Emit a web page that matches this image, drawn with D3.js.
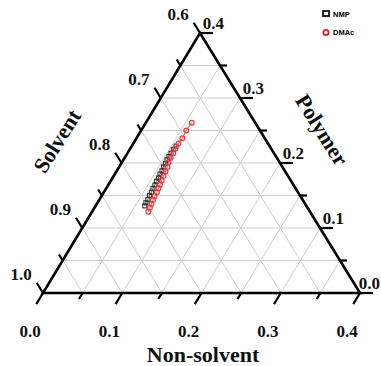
<!DOCTYPE html>
<html>
<head>
<meta charset="utf-8">
<script src="https://cdn.jsdelivr.net/npm/d3@7"></script>
<style>
  html, body { margin: 0; padding: 0; background: #fff; }
  svg { display: block; }
</style>
</head>
<body>
<svg id="chart" width="381" height="366"></svg>
<script>
// ---------------- data ----------------
const seriesNames = ["NMP", "DMAc"];

// NMP cloud points (mass fractions)
const nmpNonsolvent = [0.062,0.061,0.061,0.060,0.060,0.059,0.059,0.058,0.058,0.057,0.057,0.056,0.056,0.055,0.055,0.055,0.055,0.056];
const nmpPolymer    = [0.134,0.139,0.144,0.150,0.155,0.161,0.166,0.172,0.177,0.183,0.188,0.194,0.199,0.205,0.210,0.215,0.221,0.226];

// DMAc cloud points (mass fractions)
const dmacNonsolvent = [0.071,0.070,0.069,0.068,0.067,0.067,0.066,0.065,0.064,0.063,0.062,0.061,0.059,0.058,0.058,0.057,0.057,0.058,0.057,0.058];
const dmacPolymer    = [0.125,0.131,0.137,0.143,0.149,0.155,0.161,0.167,0.173,0.180,0.187,0.194,0.201,0.208,0.215,0.222,0.230,0.238,0.250,0.262];

// axis ticks
const majorTicks = [0.0, 0.1, 0.2, 0.3, 0.4];
const minorTicks = [0.05, 0.15, 0.25, 0.35];
const gridValues = [0.05, 0.10, 0.15, 0.20, 0.25, 0.30, 0.35];
const bottomTickLabels = ["0.0", "0.1", "0.2", "0.3", "0.4"];
const leftTickLabels   = ["1.0", "0.9", "0.8", "0.7", "0.6"];
const rightTickLabels  = ["0.0", "0.1", "0.2", "0.3", "0.4"];
const axisTitles = { bottom: "Non-solvent", left: "Solvent", right: "Polymer" };

// ---------------- layout ----------------
const W = 381;
const svg = d3.select("#chart");
const BL = [43, 293], BR = [360, 293], T = [200, 33];
const nScale = d3.scaleLinear().domain([0, 0.4]).range([0, 1]);
const pScale = d3.scaleLinear().domain([0, 0.4]).range([0, 1]);
function pt(n, p) {
  const a = nScale(n), b = pScale(p);
  return [BL[0] + a * (BR[0] - BL[0]) + b * (T[0] - BL[0]),
          BL[1] + a * (BR[1] - BL[1]) + b * (T[1] - BL[1])];
}
function unit(v) { const l = Math.hypot(v[0], v[1]); return [v[0] / l, v[1] / l]; }
const dirBottom = unit([BL[0] - T[0], BL[1] - T[1]]);
const dirLeft = unit([T[0] - BR[0], T[1] - BR[1]]);
const dirRight = [1, 0];

const serif = "'Liberation Serif', 'Times New Roman', serif";
const sans = "'Liberation Sans', Arial, sans-serif";

// grid
const grid = svg.append("g").attr("stroke", "#cdcdcd").attr("stroke-width", 1).attr("fill", "none");
gridValues.forEach(v => {
  let a = pt(0, v), b = pt(0.4 - v, v);
  grid.append("line").attr("x1", a[0]).attr("y1", a[1]).attr("x2", b[0]).attr("y2", b[1]);
  a = pt(v, 0); b = pt(v, 0.4 - v);
  grid.append("line").attr("x1", a[0]).attr("y1", a[1]).attr("x2", b[0]).attr("y2", b[1]);
  a = pt(v, 0); b = pt(0, v);
  grid.append("line").attr("x1", a[0]).attr("y1", a[1]).attr("x2", b[0]).attr("y2", b[1]);
});

// triangle axes
svg.append("path")
  .attr("d", `M${BL[0]},${BL[1]}L${BR[0]},${BR[1]}L${T[0]},${T[1]}Z`)
  .attr("fill", "none").attr("stroke", "#000").attr("stroke-width", 2.6).attr("stroke-linejoin", "miter");

// ticks
const tickG = svg.append("g").attr("stroke", "#000").attr("stroke-width", 2.2);
function tick(base, dir, len) {
  tickG.append("line").attr("x1", base[0]).attr("y1", base[1])
    .attr("x2", base[0] + dir[0] * len).attr("y2", base[1] + dir[1] * len);
}
majorTicks.forEach(v => {
  tick(pt(v, 0), dirBottom, 13);
  tick(pt(0, v), dirLeft, 12);
  tick(pt(0.4 - v, v), dirRight, 13);
});
minorTicks.forEach(v => {
  tick(pt(v, 0), dirBottom, 7);
  tick(pt(0, v), dirLeft, 7);
  tick(pt(0.4 - v, v), dirRight, 7);
});

// tick labels
const lab = svg.append("g").attr("font-family", serif).attr("font-weight", "bold")
  .attr("font-size", 17).attr("fill", "#111").attr("dominant-baseline", "central");
majorTicks.forEach((v, i) => {
  let b = pt(v, 0);
  lab.append("text").attr("x", b[0] - 13).attr("y", 331).attr("text-anchor", "middle").text(bottomTickLabels[i]);
  b = pt(0, v);
  lab.append("text").attr("x", b[0] - 22).attr("y", b[1] - 19).attr("text-anchor", "middle").text(leftTickLabels[i]);
  b = pt(0.4 - v, v);
  lab.append("text").attr("x", Math.min(b[0] + 24, W - 1)).attr("y", b[1] - 10).attr("text-anchor", "end").text(rightTickLabels[i]);
});

// axis titles
const tt = svg.append("g").attr("font-family", serif).attr("font-weight", "bold")
  .attr("font-size", 22).attr("fill", "#111").attr("text-anchor", "middle").attr("dominant-baseline", "central");
tt.append("text").attr("x", 203).attr("y", 354).text(axisTitles.bottom);
tt.append("text").attr("transform", "translate(57,141) rotate(-58)").text(axisTitles.left);
tt.append("text").attr("transform", "translate(322,130) rotate(58)").text(axisTitles.right);

// series
const nmp = nmpNonsolvent.map((n, i) => pt(n, nmpPolymer[i]));
const dmac = dmacNonsolvent.map((n, i) => pt(n, dmacPolymer[i]));
const line = d3.line();

svg.append("path").attr("d", line(nmp)).attr("fill", "none").attr("stroke", "#555").attr("stroke-width", 1);
svg.append("g").selectAll("rect").data(nmp).join("rect")
  .attr("x", d => d[0] - 2).attr("y", d => d[1] - 2).attr("width", 4).attr("height", 4)
  .attr("fill", "none").attr("stroke", "#333").attr("stroke-width", 1.1);

svg.append("path").attr("d", line(dmac)).attr("fill", "none").attr("stroke", "#e8787a").attr("stroke-width", 1.2);
svg.append("g").selectAll("circle").data(dmac).join("circle")
  .attr("cx", d => d[0]).attr("cy", d => d[1]).attr("r", 2.4)
  .attr("fill", "none").attr("stroke", "#e8383c").attr("stroke-width", 1.2);

// legend
const lg = svg.append("g");
lg.append("rect").attr("x", 323).attr("y", 11).attr("width", 6).attr("height", 5)
  .attr("fill", "none").attr("stroke", "#111").attr("stroke-width", 1.8);
lg.append("text").attr("x", 333).attr("y", 14).attr("dominant-baseline", "central")
  .attr("font-family", sans).attr("font-weight", "bold").attr("font-size", 7.5).text(seriesNames[0]);
lg.append("circle").attr("cx", 326).attr("cy", 32.5).attr("r", 2.6)
  .attr("fill", "none").attr("stroke", "#e02020").attr("stroke-width", 1.8);
lg.append("text").attr("x", 333).attr("y", 32.5).attr("dominant-baseline", "central")
  .attr("font-family", sans).attr("font-weight", "bold").attr("font-size", 7.5).text(seriesNames[1]);
</script>
</body>
</html>
